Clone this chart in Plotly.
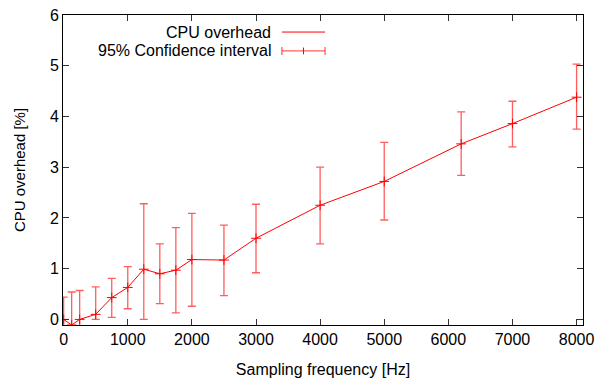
import plotly.graph_objects as go

freq = [0, 125, 250, 500, 750, 1000, 1250, 1500, 1750, 2000, 2500, 3000, 4000, 5000, 6200, 7000, 8000]
overhead = [0.0, -0.11, 0.0, 0.10, 0.43, 0.63, 0.99, 0.90, 0.97, 1.18, 1.17, 1.60, 2.25, 2.72, 3.46, 3.86, 4.38]
ci_high = [0.44, 0.54, 0.57, 0.64, 0.81, 1.04, 2.28, 1.49, 1.81, 2.09, 1.86, 2.27, 3.00, 3.49, 4.09, 4.30, 5.03]
ci_low = [-0.44, -0.76, -0.57, 0.0, 0.04, 0.21, 0.0, 0.31, 0.13, 0.26, 0.47, 0.92, 1.49, 1.96, 2.84, 3.40, 3.75]

x_ticks = [0, 1000, 2000, 3000, 4000, 5000, 6000, 7000, 8000]
y_ticks = [0, 1, 2, 3, 4, 5, 6]

err_plus = [h - v for h, v in zip(ci_high, overhead)]
err_minus = [v - l for v, l in zip(overhead, ci_low)]

FONT = "Liberation Sans, Arial, sans-serif"
RED = "#ff0000"
ERR = "rgba(255,40,40,0.75)"

fig = go.Figure()
fig.add_trace(go.Scatter(
    x=freq, y=overhead, mode="lines",
    line=dict(color=RED, width=1),
    error_y=dict(type="data", symmetric=False, array=err_plus, arrayminus=err_minus,
                 color=ERR, thickness=1.3, width=4),
    showlegend=False,
))
fig.add_trace(go.Scatter(
    x=freq, y=overhead, mode="markers",
    marker=dict(symbol="cross-thin", size=7, color=RED, line=dict(color=RED, width=1)),
    showlegend=False,
))

# gnuplot-style key (text right-aligned, sample on the right)
x0, x1 = 0.421, 0.504
xm = (x0 + x1) / 2
r1, r2 = 0.945, 0.884
shapes = [
    dict(type="line", xref="paper", yref="paper", x0=x0, x1=x1, y0=r1, y1=r1, line=dict(color=RED, width=1)),
    dict(type="line", xref="paper", yref="paper", x0=x0, x1=x1, y0=r2, y1=r2, line=dict(color=ERR, width=1.3)),
    dict(type="line", xref="paper", yref="paper", x0=x0, x1=x0, y0=r2 - 0.013, y1=r2 + 0.013, line=dict(color=ERR, width=1.3)),
    dict(type="line", xref="paper", yref="paper", x0=x1, x1=x1, y0=r2 - 0.013, y1=r2 + 0.013, line=dict(color=ERR, width=1.3)),
    dict(type="line", xref="paper", yref="paper", x0=xm, x1=xm, y0=r2 - 0.011, y1=r2 + 0.011, line=dict(color=RED, width=1)),
]
annotations = [
    dict(text="CPU overhead", xref="paper", yref="paper", x=0.404, y=r1, xanchor="right", yanchor="middle",
         showarrow=False, font=dict(family=FONT, size=16, color="black")),
    dict(text="95% Confidence interval", xref="paper", yref="paper", x=0.404, y=r2, xanchor="right", yanchor="middle",
         showarrow=False, font=dict(family=FONT, size=16, color="black")),
]

axis_common = dict(
    showline=True, linecolor="black", linewidth=1, mirror="allticks",
    ticks="inside", ticklen=6, tickcolor="#333", tickwidth=1,
    showgrid=False, zeroline=False, automargin=False,
    tickfont=dict(family=FONT, size=16, color="black"),
)
fig.update_xaxes(range=[-10, 8100], tickvals=x_ticks,
                 title=dict(text="Sampling frequency [Hz]", font=dict(family=FONT, size=16, color="black"), standoff=16),
                 **axis_common)
fig.update_yaxes(range=[-0.11, 6], tickvals=y_ticks,
                 title=dict(text="CPU overhead [%]", font=dict(family=FONT, size=15, color="black"), standoff=20),
                 **axis_common)
fig.update_layout(
    width=597, height=379,
    margin=dict(l=63, r=14, t=15, b=54),
    paper_bgcolor="white", plot_bgcolor="white",
    shapes=shapes, annotations=annotations,
    font=dict(family=FONT),
)
fig.write_html("out.html")
